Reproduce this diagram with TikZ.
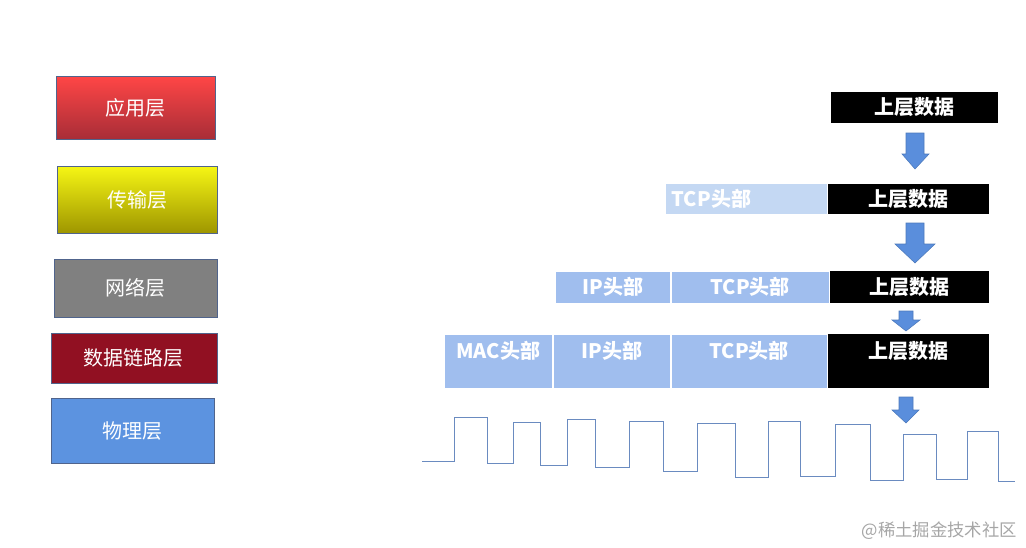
\documentclass[tikz,border=0pt]{standalone}
\usepackage{fontspec}
\setmainfont{Noto Sans CJK SC}
\usetikzlibrary{positioning}
\definecolor{myred}{RGB}{255,70,70}
\definecolor{mydarkred}{RGB}{168,45,55}
\definecolor{myyellow}{RGB}{246,246,20}
\definecolor{myolive}{RGB}{158,150,0}
\definecolor{mygray}{RGB}{128,128,128}
\definecolor{mywine}{RGB}{145,16,34}
\definecolor{myblue}{RGB}{92,147,224}
\definecolor{myedge}{RGB}{80,100,140}
\definecolor{mylight}{RGB}{160,190,238}
\definecolor{mypale}{RGB}{196,216,243}
\definecolor{myarrow}{RGB}{90,142,220}
\definecolor{mywave}{RGB}{106,139,192}

\begin{document}
\begin{tikzpicture}[x=0.75pt,y=-0.75pt,
  layer/.style={draw=myedge,line width=0.75pt,text=white,inner sep=0pt,
    font=\fontsize{15pt}{18pt}\selectfont},
  cell/.style={inner sep=0pt,text=white,font=\fontsize{15pt}{18pt}\selectfont\bfseries},
  hdr/.style={cell,fill=mylight,draw=white,line width=0.75pt},
  dat/.style={cell,fill=black},
  tall/.style={minimum height=40.5pt,text height=18.4pt,text depth=22.1pt},
  blk/.style={fill=myarrow,draw=myarrow!85!black,line width=0.4pt}]

  \useasboundingbox (0,0) rectangle (1026,547);

  % layers on the left
  \node[layer,top color=myred,bottom color=mydarkred,minimum width=119.25pt,minimum height=47.25pt]
    (app) at (135.5,107.5) {应用层};
  \node[layer,top color=myyellow,bottom color=myolive,minimum width=120pt,minimum height=50.25pt]
    (trans) at (137,199.5) {传输层};
  \node[layer,fill=mygray,minimum width=122.25pt,minimum height=43.5pt]
    (net) at (135.5,288) {网络层};
  \node[layer,fill=mywine,minimum width=124.5pt,minimum height=37.5pt]
    (link) at (134,358) {数据链路层};
  \node[layer,fill=myblue,minimum width=122.25pt,minimum height=48.75pt]
    (phy) at (132.5,430.5) {物理层};

  % first row
  \node[dat,minimum width=125.25pt,minimum height=23.25pt] (data1) at (914.5,107.5) {上层数据};

  % second row
  \node[dat,minimum width=120.75pt,minimum height=22.5pt] (data2) at (908.5,199) {上层数据};
  \node[cell,fill=mypale,text width=112.75pt,inner xsep=4pt,align=left,minimum height=22.5pt,
    left=0pt of data2] (tcp2) {TCP头部};

  % third row
  \node[dat,minimum width=119.25pt,minimum height=24pt] (data3) at (909.5,287) {上层数据};
  \node[hdr,minimum width=118.5pt,minimum height=24pt,left=0pt of data3] (tcp3) {TCP头部};
  \node[hdr,minimum width=86.25pt,minimum height=24pt,left=0pt of tcp3] (ip3) {IP头部};

  % fourth row
  \node[dat,tall,minimum width=120.75pt] (data4) at (908.5,361) {上层数据};
  \node[hdr,tall,minimum width=117pt,left=0pt of data4] (tcp4) {TCP头部};
  \node[hdr,tall,minimum width=87.75pt,left=0pt of tcp4] (ip4) {IP头部};
  \node[hdr,tall,minimum width=81pt,left=0pt of ip4] (mac4) {MAC头部};

  % block arrows between the rows
  \filldraw[blk] (906,133) -- (924,133) -- (924,154) -- (929,154) -- (915,169)
    -- (902,154) -- (906,154) -- cycle;
  \filldraw[blk] (906,223) -- (924,223) -- (924,244) -- (935,244) -- (915,263)
    -- (895,244) -- (906,244) -- cycle;
  \filldraw[blk] (899,311) -- (913,311) -- (913,320) -- (920,320) -- (906,331)
    -- (892,320) -- (899,320) -- cycle;
  \filldraw[blk] (899,397) -- (913,397) -- (913,410) -- (919,410) -- (906,423)
    -- (892,410) -- (899,410) -- cycle;

  % signal on the wire
  \draw[mywave,line width=0.75pt] (422,461) -- (454,461) -- (454,417) -- (487,417)
    -- (487,463) -- (513,463) -- (513,422) -- (540,422) -- (540,465) -- (567,465)
    -- (567,419) -- (595,419) -- (595,467) -- (629,467) -- (629,421) -- (663,421)
    -- (663,471) -- (697,471) -- (697,423) -- (735,423) -- (735,477) -- (768,477)
    -- (768,421) -- (800,421) -- (800,476) -- (835,476) -- (835,424) -- (870,424)
    -- (870,480) -- (903,480) -- (903,434) -- (936,434) -- (936,479) -- (967,479)
    -- (967,431) -- (998,431) -- (998,481) -- (1015,481);

  \node[text=black!35,inner sep=0pt,font=\fontsize{13pt}{15pt}\selectfont,anchor=east]
    (mark) at (1017,531) {@稀土掘金技术社区};

\end{tikzpicture}
\end{document}
